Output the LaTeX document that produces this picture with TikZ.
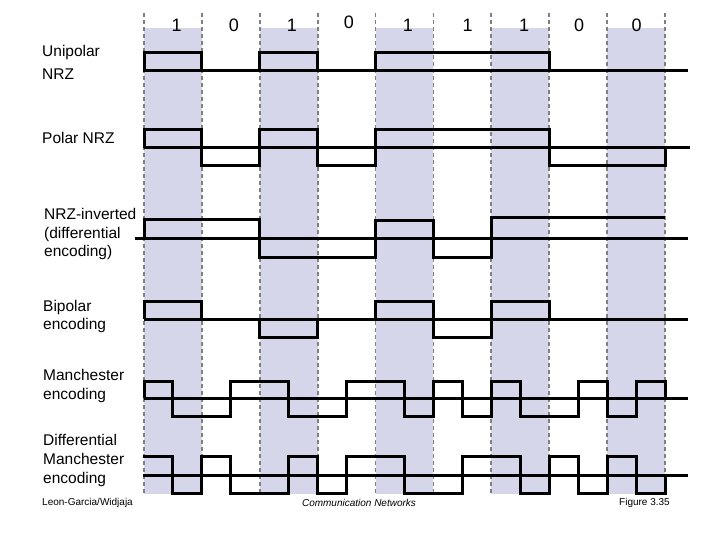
\documentclass[tikz,border=0pt]{standalone}
\usepackage{fontspec}
\setmainfont{Liberation Sans}
\definecolor{bitshade}{RGB}{214,214,235}
\definecolor{dashgray}{RGB}{128,128,128}
\begin{document}
\begin{tikzpicture}[x=1pt,y=-1pt,
  sig/.style={line width=3pt,black},
  gridline/.style={draw=dashgray,line width=1.7pt,dash pattern=on 4pt off 3pt},
  lbl/.style={anchor=base west,inner sep=0pt,font=\fontsize{15.5}{19}\selectfont},
  bitlbl/.style={anchor=base,inner sep=0pt,font=\fontsize{18}{20}\selectfont},
  smalllbl/.style={inner sep=0pt,font=\fontsize{10}{12}\selectfont}]
\useasboundingbox (0,0) rectangle (720,540);
\fill[white] (0,0) rectangle (720,540);
\begin{scope}[x=28.944pt,xshift=144pt]
  \foreach \k in {0,4,8,12,16} \fill[fill=bitshade] (\k,28) rectangle (\k+2,494);
  \foreach \k in {0,2,...,18} \draw[gridline] (\k,13) -- (\k,494);
\end{scope}
% bit labels
\node[bitlbl] (b1) at (176.7,31.7) {1};
\node[bitlbl] (b2) at (234,31.7) {0};
\node[bitlbl] (b3) at (292,31.7) {1};
\node[bitlbl] (b4) at (349,28.3) {0};
\node[bitlbl] (b5) at (408,31.7) {1};
\node[bitlbl] (b6) at (467.7,31.7) {1};
\node[bitlbl] (b7) at (524,31.7) {1};
\node[bitlbl] (b8) at (579,31.7) {0};
\node[bitlbl] (b9) at (636.7,31.7) {0};
% row labels
\node[lbl] (l1a) at (42,56.7) {Unipolar};
\node[lbl] (l1b) at (42,79.3) {NRZ};
\node[lbl] (l2) at (42,143.5) {Polar NRZ};
\node[lbl] (l3a) at (44,219.3) {NRZ-inverted};
\node[lbl] (l3b) at (44,238.3) {(differential};
\node[lbl] (l3c) at (44,256.9) {encoding)};
\node[lbl] (l4a) at (43,311) {Bipolar};
\node[lbl] (l4b) at (43,329.5) {encoding};
\node[lbl] (l5a) at (43,380.7) {Manchester};
\node[lbl] (l5b) at (43,399.3) {encoding};
\node[lbl] (l6a) at (43,445) {Differential};
\node[lbl] (l6b) at (43,464) {Manchester};
\node[lbl] (l6c) at (43,483) {encoding};
\node[smalllbl,anchor=base west] (f1) at (42,505.7) {Leon-Garcia/Widjaja};
\node[smalllbl,anchor=base,font=\fontsize{10}{12}\selectfont\itshape] (f2) at (359,506.5) {Communication Networks};
\node[smalllbl,anchor=base west] (f3) at (619,505.7) {Figure 3.35};
% baselines
\draw[sig] (144,71) -- (688,71);
\draw[sig] (144,148) -- (690,148);
\draw[sig] (135,238) -- (688,238);
\draw[sig] (144,319) -- (688,319);
\draw[sig] (144,398) -- (688,398);
\draw[sig] (143,475) -- (688,475);
% signals
\begin{scope}[x=28.944pt,xshift=144pt]
  % unipolar NRZ
  \draw[sig] (0,71) rectangle (2,53);
  \draw[sig] (4,71) rectangle (6,53);
  \draw[sig] (8,71) rectangle (14,53);
  % polar NRZ
  \draw[sig] (0,148) -- (0,130) -- (2,130) -- (2,166) -- (4,166) -- (4,130) -- (6,130) -- (6,166) -- (8,166) -- (8,130) -- (14,130) -- (14,166) -- (18,166) -- (18,148);
  % NRZ-inverted
  \draw[sig] (0,238) -- (0,220) -- (4,220) -- (4,257) -- (8,257) -- (8,221) -- (10,221) -- (10,257) -- (12,257) -- (12,218) -- (18,218);
  % bipolar
  \draw[sig] (0,319) -- (0,301) -- (2,301) -- (2,319);
  \draw[sig] (4,319) -- (4,337) -- (6,337) -- (6,319);
  \draw[sig] (8,319) -- (8,301) -- (10,301) -- (10,337) -- (12,337) -- (12,301) -- (14,301) -- (14,319);
  % Manchester
  \draw[sig] (0,398) -- (0,381) -- (1,381) -- (1,416) -- (3,416) -- (3,381) -- (5,381) -- (5,416) -- (7,416) -- (7,381) -- (9,381) -- (9,416) -- (10,416) -- (10,381) -- (11,381) -- (11,416) -- (12,416) -- (12,381) -- (13,381) -- (13,416) -- (15,416) -- (15,381) -- (16,381) -- (16,416) -- (17,416) -- (17,381) -- (18,381) -- (18,398);
  % differential Manchester
  \draw[sig] (-0.04,456) -- (1,456) -- (1,493) -- (2,493) -- (2,456) -- (3,456) -- (3,493) -- (5,493) -- (5,456) -- (6,456) -- (6,493) -- (7,493) -- (7,456) -- (9,456) -- (9,493) -- (11,493) -- (11,456) -- (13,456) -- (13,493) -- (14,493) -- (14,456) -- (15,456) -- (15,493) -- (16,493) -- (16,456) -- (17,456) -- (17,493) -- (18,493) -- (18,475);
\end{scope}
\end{tikzpicture}
\end{document}
